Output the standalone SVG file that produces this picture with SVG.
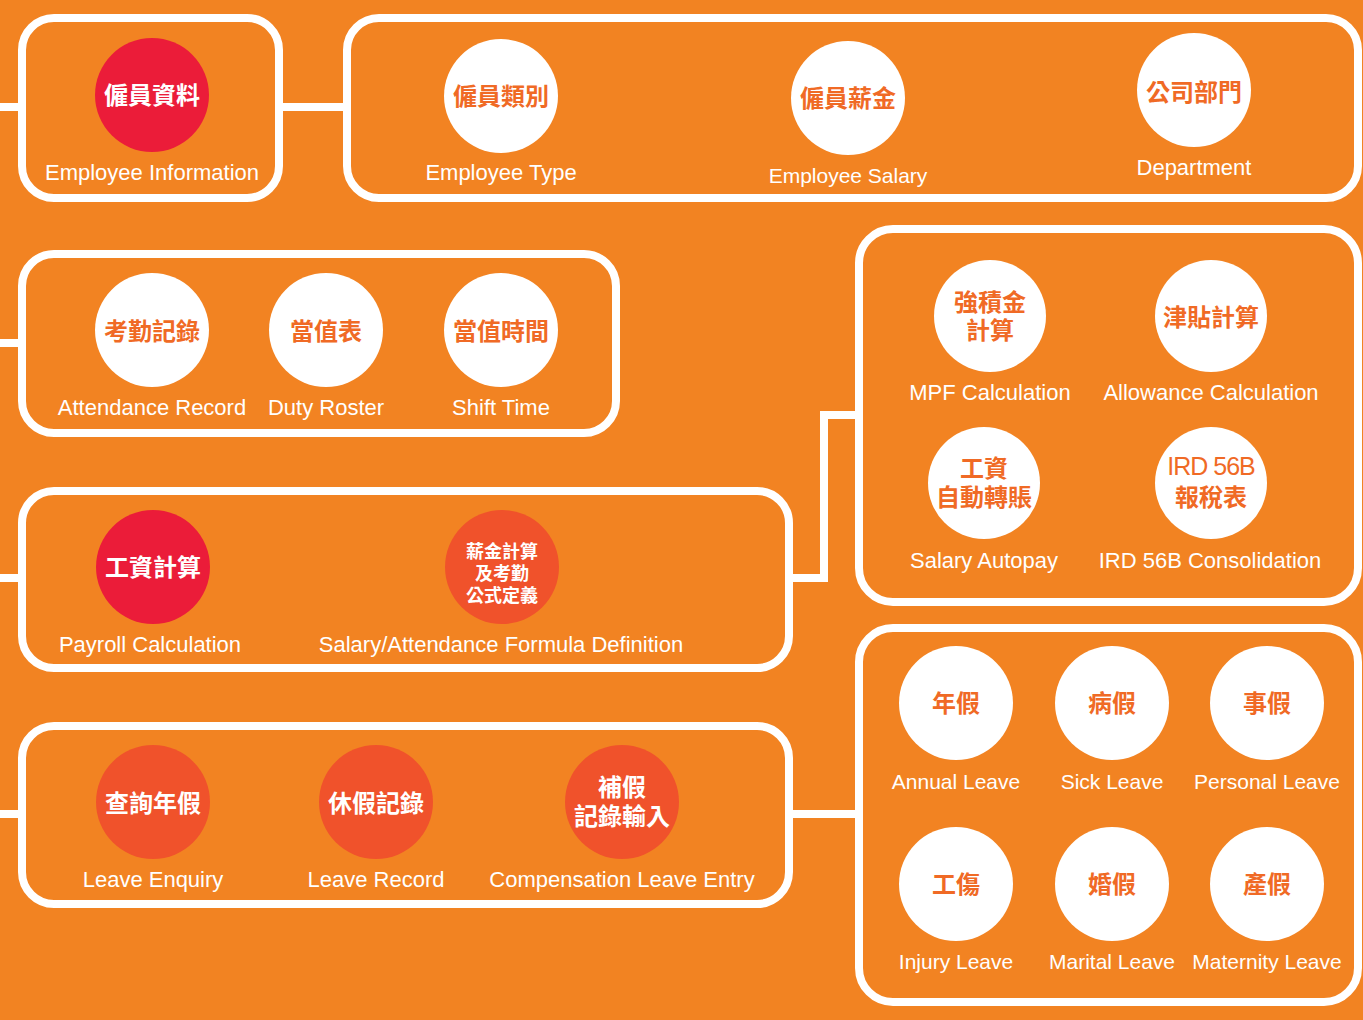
<svg xmlns="http://www.w3.org/2000/svg" width="1363" height="1020" viewBox="0 0 1363 1020">
<defs>
<style>
.bg{fill:#F28322}
.box{fill:none;stroke:#FFFFFF;stroke-width:8}
.conn{fill:none;stroke:#FFFFFF;stroke-width:8}
.cw{fill:#FFFFFF}
.cr{fill:#EB1C39}
.co{fill:#F0522B}
.zh{font-family:"Noto Sans CJK TC","Noto Sans CJK SC",sans-serif;font-weight:bold;font-size:24px;text-anchor:middle;dominant-baseline:central}
.zo{fill:#F06A25}
.zw{fill:#FFFFFF}
.en{font-family:"Liberation Sans",Arial,sans-serif;font-size:22px;fill:#FFFFFF;text-anchor:middle}
.en21{font-size:21px}
.sm{font-size:18px}
.lat{font-family:"Liberation Sans","Noto Sans CJK TC",sans-serif;font-weight:normal;font-size:25px;letter-spacing:-1px}
</style>
</defs>
<rect class="bg" x="0" y="0" width="1363" height="1020"/>
<g id="connectors">
<path class="conn" d="M0,107 H22"/>
<path class="conn" d="M279,107 H347"/>
<path class="conn" d="M0,343 H22"/>
<path class="conn" d="M0,578 H22"/>
<path class="conn" d="M789,578 H824 V415 H859"/>
<path class="conn" d="M0,814 H22"/>
<path class="conn" d="M789,814 H859"/>
</g>
<g id="box-employee-info">
<rect class="box" x="22" y="18" width="257" height="180" rx="32"/>
<g id="node-employee-info">
<circle class="cr" cx="152" cy="95" r="57"/>
<text class="zh zw" x="152" y="93">僱員資料</text>
<text class="en" x="152" y="180">Employee Information</text>
</g>
</g>
<g id="box-employee-sub">
<rect class="box" x="347" y="18" width="1011" height="180" rx="32"/>
<g id="node-employee-type">
<circle class="cw" cx="501" cy="96" r="57"/>
<text class="zh zo" x="501" y="94">僱員類別</text>
<text class="en" x="501" y="180">Employee Type</text>
</g>
<g id="node-employee-salary">
<circle class="cw" cx="848" cy="98" r="57"/>
<text class="zh zo" x="848" y="96">僱員薪金</text>
<text class="en en21" x="848" y="183">Employee Salary</text>
</g>
<g id="node-department">
<circle class="cw" cx="1194" cy="90" r="57"/>
<text class="zh zo" x="1194" y="90">公司部門</text>
<text class="en" x="1194" y="175">Department</text>
</g>
</g>
<g id="box-attendance">
<rect class="box" x="22" y="254" width="594" height="179" rx="32"/>
<g id="node-attendance-record">
<circle class="cw" cx="152" cy="330" r="57"/>
<text class="zh zo" x="152" y="329">考勤記錄</text>
<text class="en" x="152" y="415">Attendance Record</text>
</g>
<g id="node-duty-roster">
<circle class="cw" cx="326" cy="330" r="57"/>
<text class="zh zo" x="326" y="329">當值表</text>
<text class="en" x="326" y="415">Duty Roster</text>
</g>
<g id="node-shift-time">
<circle class="cw" cx="501" cy="330" r="57"/>
<text class="zh zo" x="501" y="329">當值時間</text>
<text class="en" x="501" y="415">Shift Time</text>
</g>
</g>
<g id="box-payroll-sub">
<rect class="box" x="859" y="229" width="499" height="373" rx="34"/>
<g id="node-mpf">
<circle class="cw" cx="990" cy="316" r="56"/>
<text class="zh zo" x="990" y="300">強積金<tspan x="990" dy="28">計算</tspan></text>
<text class="en" x="990" y="400">MPF Calculation</text>
</g>
<g id="node-allowance">
<circle class="cw" cx="1211" cy="316" r="56"/>
<text class="zh zo" x="1211" y="315">津貼計算</text>
<text class="en" x="1211" y="400">Allowance Calculation</text>
</g>
<g id="node-autopay">
<circle class="cw" cx="984" cy="483" r="56"/>
<text class="zh zo" x="984" y="466">工資<tspan x="984" dy="29">自動轉賬</tspan></text>
<text class="en" x="984" y="568">Salary Autopay</text>
</g>
<g id="node-ird">
<circle class="cw" cx="1211" cy="483" r="56"/>
<text class="zh zo" x="1211" y="466"><tspan class="lat">IRD 56B</tspan><tspan x="1211" dy="29">報稅表</tspan></text>
<text class="en" x="1210" y="568">IRD 56B Consolidation</text>
</g>
</g>
<g id="box-payroll">
<rect class="box" x="22" y="491" width="767" height="177" rx="32"/>
<g id="node-payroll">
<circle class="cr" cx="153" cy="567" r="57"/>
<text class="zh zw" x="153" y="565">工資計算</text>
<text class="en" x="150" y="652">Payroll Calculation</text>
</g>
<g id="node-formula">
<circle class="co" cx="502" cy="567" r="57"/>
<text class="zh zw sm" x="502" y="550">薪金計算<tspan x="502" dy="22">及考勤</tspan><tspan x="502" dy="22">公式定義</tspan></text>
<text class="en" x="501" y="652">Salary/Attendance Formula Definition</text>
</g>
</g>
<g id="box-leave">
<rect class="box" x="22" y="726" width="767" height="178" rx="32"/>
<g id="node-leave-enquiry">
<circle class="co" cx="153" cy="802" r="57"/>
<text class="zh zw" x="153" y="801">查詢年假</text>
<text class="en" x="153" y="887">Leave Enquiry</text>
</g>
<g id="node-leave-record">
<circle class="co" cx="376" cy="802" r="57"/>
<text class="zh zw" x="376" y="801">休假記錄</text>
<text class="en" x="376" y="887">Leave Record</text>
</g>
<g id="node-comp-leave">
<circle class="co" cx="622" cy="802" r="57"/>
<text class="zh zw" x="622" y="785">補假<tspan x="622" dy="29">記錄輸入</tspan></text>
<text class="en" x="622" y="887">Compensation Leave Entry</text>
</g>
</g>
<g id="box-leave-types">
<rect class="box" x="859" y="628" width="499" height="374" rx="34"/>
<g id="node-annual">
<circle class="cw" cx="956" cy="703" r="57"/>
<text class="zh zo" x="956" y="701">年假</text>
<text class="en en21" x="956" y="789">Annual Leave</text>
</g>
<g id="node-sick">
<circle class="cw" cx="1112" cy="703" r="57"/>
<text class="zh zo" x="1112" y="701">病假</text>
<text class="en en21" x="1112" y="789">Sick Leave</text>
</g>
<g id="node-personal">
<circle class="cw" cx="1267" cy="703" r="57"/>
<text class="zh zo" x="1267" y="701">事假</text>
<text class="en en21" x="1267" y="789">Personal Leave</text>
</g>
<g id="node-injury">
<circle class="cw" cx="956" cy="884" r="57"/>
<text class="zh zo" x="956" y="882">工傷</text>
<text class="en en21" x="956" y="969">Injury Leave</text>
</g>
<g id="node-marital">
<circle class="cw" cx="1112" cy="884" r="57"/>
<text class="zh zo" x="1112" y="882">婚假</text>
<text class="en en21" x="1112" y="969">Marital Leave</text>
</g>
<g id="node-maternity">
<circle class="cw" cx="1267" cy="884" r="57"/>
<text class="zh zo" x="1267" y="882">產假</text>
<text class="en en21" x="1267" y="969">Maternity Leave</text>
</g>
</g>
</svg>
